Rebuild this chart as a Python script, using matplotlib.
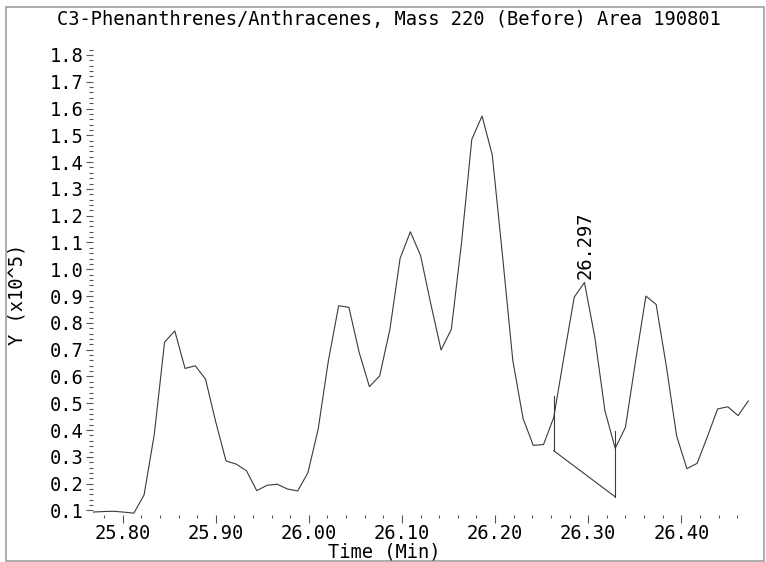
import matplotlib
matplotlib.use('Agg')
import matplotlib.pyplot as plt
import matplotlib.patches as mpatches
from matplotlib.ticker import MultipleLocator, FormatStrFormatter

# Chromatogram trace (time in min, intensity in 1e5 counts)
times = [25.768, 25.779, 25.790, 25.801, 25.812, 25.823, 25.834, 25.845, 25.856, 25.867,
         25.878, 25.889, 25.900, 25.911, 25.922, 25.933, 25.944, 25.955, 25.966, 25.977,
         25.988, 25.999, 26.010, 26.021, 26.032, 26.043, 26.054, 26.065, 26.076, 26.087,
         26.098, 26.109, 26.120, 26.131, 26.142, 26.153, 26.164, 26.175, 26.186, 26.197,
         26.208, 26.219, 26.230, 26.241, 26.252, 26.263, 26.274, 26.285, 26.296, 26.307,
         26.318, 26.329, 26.340, 26.351, 26.362, 26.373, 26.384, 26.395, 26.406, 26.417,
         26.428, 26.439, 26.450, 26.461, 26.472]
intensity = [0.094, 0.096, 0.097, 0.094, 0.090, 0.158, 0.385, 0.728, 0.770, 0.630,
             0.640, 0.590, 0.430, 0.285, 0.273, 0.248, 0.174, 0.194, 0.198, 0.180,
             0.173, 0.241, 0.404, 0.660, 0.864, 0.858, 0.690, 0.562, 0.602, 0.775,
             1.041, 1.140, 1.051, 0.870, 0.699, 0.776, 1.100, 1.485, 1.572, 1.426,
             1.050, 0.661, 0.444, 0.343, 0.346, 0.447, 0.674, 0.896, 0.951, 0.749,
             0.472, 0.332, 0.410, 0.660, 0.900, 0.869, 0.637, 0.378, 0.256, 0.276,
             0.375, 0.479, 0.487, 0.454, 0.509]

# integration baseline and its drop lines
base_t = [26.263, 26.329]
base_y = [0.323, 0.151]
drop_top = [0.527, 0.398]

peak_time = 26.297
peak_y = 0.951
peak_label = '26.297'

title = 'C3-Phenanthrenes/Anthracenes, Mass 220 (Before) Area 190801'

W, H = 766, 562
plt.rcParams['font.family'] = ['DejaVu Sans Mono']
fs = 13.5

fig = plt.figure(figsize=(W / 100, H / 100), dpi=100)
ax = fig.add_axes([92.5 / W, 1 - 514.5 / H, (750 - 92.5) / W, (514.5 - 47) / H])

ax.plot(times, intensity, color='#3a3a3a', lw=0.8)
ax.plot(base_t, base_y, color='#3a3a3a', lw=0.8)
for t, yb, yt in zip(base_t, base_y, drop_top):
    ax.plot([t, t], [yb, yt], color='#3a3a3a', lw=0.8)

ax.annotate(peak_label, xy=(peak_time, peak_y), xytext=(0, 3), textcoords='offset pixels',
            rotation=90, ha='center', va='bottom', fontsize=fs)

ax.set_xlim(25.7676, 26.4738)
ax.set_ylim(0.085, 1.8295)

ax.xaxis.set_major_locator(MultipleLocator(0.1))
ax.xaxis.set_minor_locator(MultipleLocator(0.02))
ax.xaxis.set_major_formatter(FormatStrFormatter('%.2f'))
ax.yaxis.set_major_locator(MultipleLocator(0.1))
ax.yaxis.set_minor_locator(MultipleLocator(0.02))
ax.yaxis.set_major_formatter(FormatStrFormatter('%.1f'))

for s in ax.spines.values():
    s.set_visible(False)

ax.tick_params(axis='x', which='major', length=5.8, width=0.8, color='#555555',
               labelsize=fs, pad=1)
ax.tick_params(axis='x', which='minor', length=2.5, width=0.8, color='#555555')
ax.tick_params(axis='y', which='major', length=5, width=0.8, color='#555555',
               labelsize=fs, pad=1.5)
ax.tick_params(axis='y', which='minor', length=3.2, width=0.8, color='#555555')

fig.text(388.5 / W, 1 - 19 / H, title, ha='center', va='center', fontsize=fs)
fig.text(17 / W, 1 - 294 / H, 'Y (x10^5)', ha='center', va='center', rotation=90, fontsize=fs)
fig.text(384 / W, 1 - 552.5 / H, 'Time (Min)', ha='center', va='center', fontsize=fs)

# grey frame around the whole chart
fig.patches.append(mpatches.Rectangle((5.5 / W, 1 - 561 / H), 758.5 / W, 554.5 / H,
                                      transform=fig.transFigure, fill=False,
                                      edgecolor='#a0a0a0', lw=1.2))

fig.savefig('out.png', dpi=100)
